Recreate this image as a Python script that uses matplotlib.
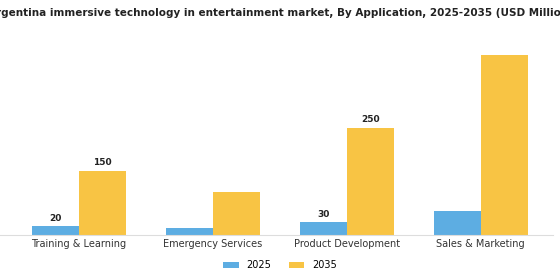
import numpy as np
import matplotlib.pyplot as plt

categories = ["Training & Learning", "Emergency Services", "Product Development", "Sales & Marketing"]
years = ["2025", "2035"]
values_2025 = [20, 15, 30, 55]
values_2035 = [150, 100, 250, 420]
labeled = [0, 2]  # categories that carry value labels

colors = {"2025": "#5DADE2", "2035": "#F8C444"}

fig = plt.figure(figsize=(5.6, 2.8), dpi=100)
ax = fig.add_axes([0.0, 0.161, 0.9875, 0.69])

x = np.arange(len(categories))
width = 0.35
b1 = ax.bar(x - width / 2, values_2025, width, color=colors["2025"], label="2025")
b2 = ax.bar(x + width / 2, values_2035, width, color=colors["2035"], label="2035")

for i in labeled:
    ax.text(x[i] - width / 2, values_2025[i] + 8, str(values_2025[i]), ha="center", va="bottom",
            fontsize=6.5, fontweight="bold", color="#222222")
    ax.text(x[i] + width / 2, values_2035[i] + 8, str(values_2035[i]), ha="center", va="bottom",
            fontsize=6.5, fontweight="bold", color="#222222")

ax.set_xlim(-0.59, 3.54)
ax.set_ylim(0, 450)
ax.set_xticks(x)
ax.set_xticklabels(categories, fontsize=7, color="#333333")
ax.tick_params(axis="x", length=0, pad=3)
ax.set_yticks([])
for s in ["top", "right", "left"]:
    ax.spines[s].set_visible(False)
ax.spines["bottom"].set_color("#dddddd")

fig.text(0.5, 0.955, "Argentina immersive technology in entertainment market, By Application, 2025-2035 (USD Million)",
         ha="center", va="center", fontsize=7.45, fontweight="bold", color="#222222")

fig.legend(handles=[b1, b2], labels=years, loc="center", bbox_to_anchor=(0.5, 0.052), ncol=2,
           frameon=False, fontsize=7, handlelength=1.6, handleheight=0.6, columnspacing=1.8)

fig.savefig("out.png", dpi=100)
